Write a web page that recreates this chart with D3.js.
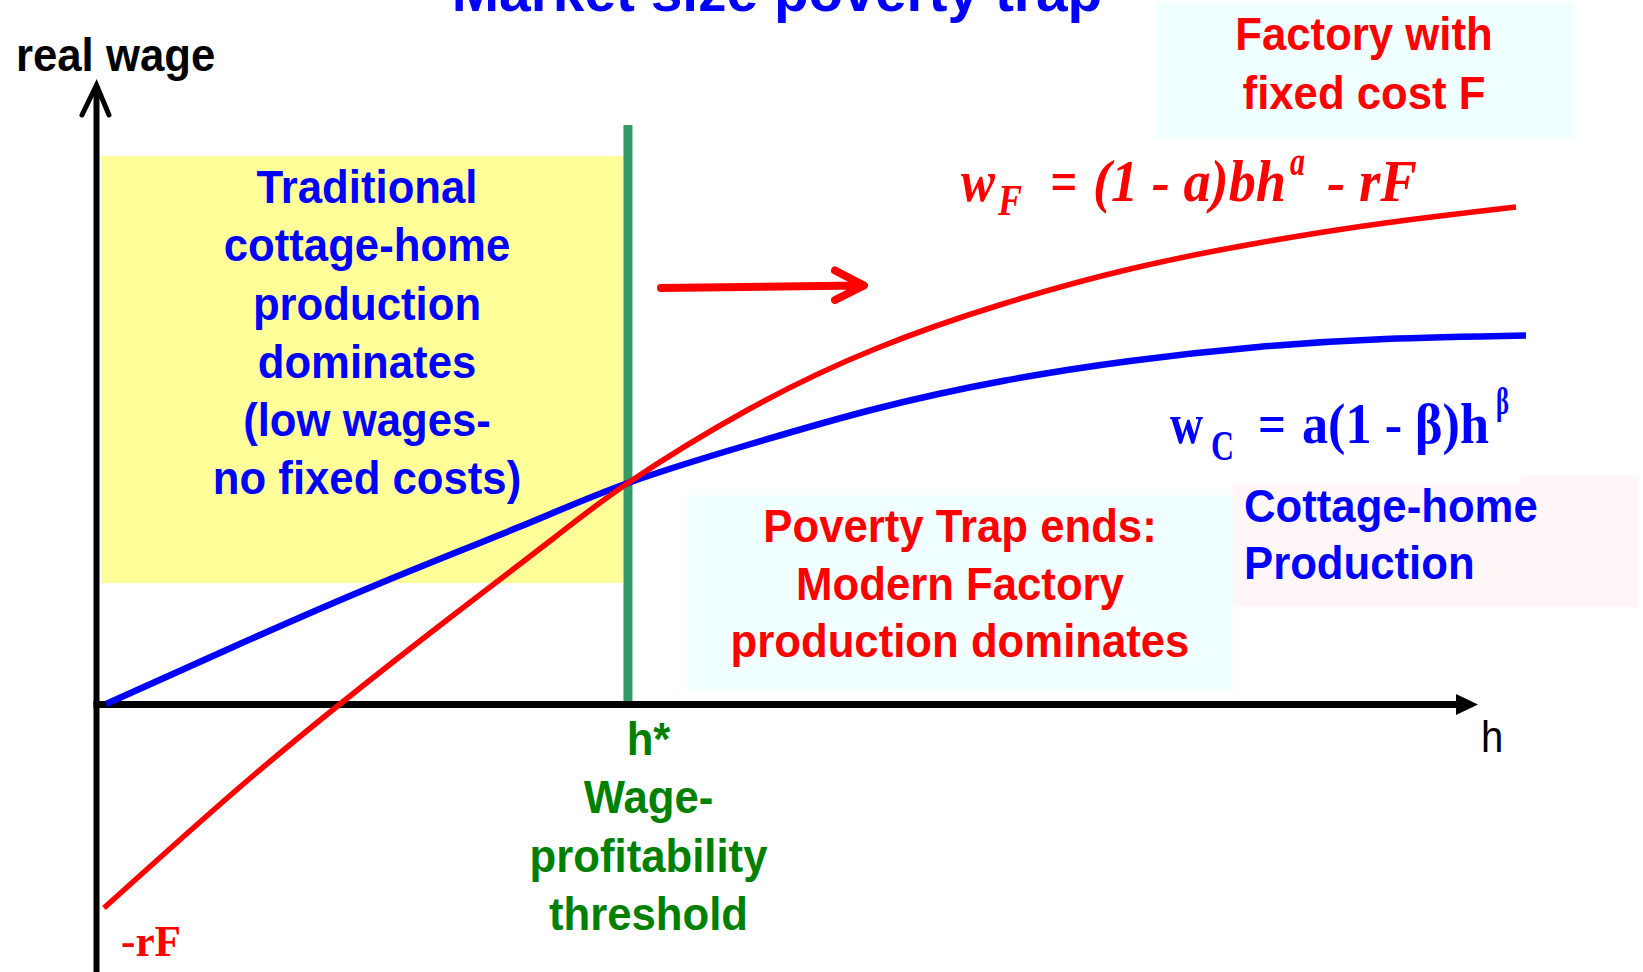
<!DOCTYPE html>
<html><head><meta charset="utf-8">
<script src="https://cdn.jsdelivr.net/npm/d3@7"></script>
<style>html,body{margin:0;padding:0;background:#fff}svg{display:block}</style>
</head><body>
<script>
// ---------- data ----------
const hCottage = [0.69, 9.88, 20.23, 30.58, 38.47, 47.12, 56.35, 65.59, 74.81, 84.08, 93.27, 103.47];
const wCottage = [0, 5.7, 11.9, 17.7, 22.1, 25.9, 29.5, 32.3, 34.3, 35.7, 36.5, 36.85];
const hFactory = [0.54, 9.88, 17.63, 25.37, 33.11, 38.47, 47.12, 56.35, 65.59, 74.81, 84.08, 93.27, 102.75];
const wFactory = [-20.4, -8.9, 0, 8.4, 16.6, 22.1, 29.4, 35.5, 40.0, 43.5, 46.1, 48.1, 49.7];
const hStar = 38.47;
const thresholdTop = 57.9;

const titleText = "Market size poverty trap";
const yAxisLabel = "real wage";
const xAxisLabel = "h";
const cottageBoxLines = ["Traditional", "cottage-home", "production", "dominates", "(low wages-", "no fixed costs)"];
const factoryBoxLines = ["Poverty Trap ends:", "Modern Factory", "production dominates"];
const factoryTitleLines = ["Factory with", "fixed cost F"];
const cottageLabelLines = ["Cottage-home", "Production"];
const thresholdLines = ["h*", "Wage-", "profitability", "threshold"];
const interceptLabel = "-rF";

// ---------- setup ----------
const W = 1643, H = 972;
const svg = d3.select("body").append("svg").attr("width", W).attr("height", H);
const x = d3.scaleLinear().domain([0, 100]).range([96.5, 1478]);
const y = d3.scaleLinear().domain([-26.8, 70.4]).range([972, 0]);

const SANS = "'Liberation Sans', Arial, sans-serif";
const SERIF = "'Liberation Serif', 'Times New Roman', serif";
const BLUE = "#0000FF", RED = "#FF0000", GREEN = "#008000";

function label(txt, px, py, o) {
  svg.append("text")
    .attr("transform", `translate(${px},${py}) scale(${o.sx ?? 0.93},1)`)
    .attr("text-anchor", o.anchor || "middle")
    .attr("font-family", o.family || SANS)
    .attr("font-size", o.size || 47)
    .attr("font-weight", o.weight ?? 700)
    .attr("font-style", o.style || "normal")
    .attr("fill", o.fill)
    .text(txt);
}
function piece(txt, x0, x1, py, size, fill, style) {
  svg.append("text")
    .attr("x", x0).attr("y", py)
    .attr("textLength", x1 - x0).attr("lengthAdjust", "spacingAndGlyphs")
    .attr("font-family", SERIF).attr("font-size", size)
    .attr("font-weight", 700).attr("font-style", style || "normal")
    .attr("fill", fill).text(txt);
}

// ---------- background boxes ----------
const gx = x(hStar);
svg.append("rect").attr("x", 101).attr("y", 156).attr("width", gx - 5 - 101).attr("height", 583 - 156).attr("fill", "#FFFF99");
svg.append("rect").attr("x", 1156).attr("y", 3).attr("width", 1574 - 1156).attr("height", 136).attr("fill", "#F0FFFF");
svg.append("rect").attr("x", 687).attr("y", 495).attr("width", 1233 - 687).attr("height", 196).attr("fill", "#F0FFFF");
svg.append("rect").attr("x", 1233).attr("y", 475).attr("width", 1639 - 1233).attr("height", 132).attr("fill", "#FFF7F7");
svg.append("rect").attr("x", 1233).attr("y", 468).attr("width", 1521 - 1233).attr("height", 16).attr("fill", "#FFFFFF");

// ---------- threshold line ----------
svg.append("line").attr("x1", gx).attr("x2", gx).attr("y1", y(thresholdTop)).attr("y2", y(0) - 3)
  .attr("stroke", "#339966").attr("stroke-width", 9);

// ---------- axes ----------
const x0 = x(0), y0 = y(0);
svg.append("line").attr("x1", x0).attr("x2", x0).attr("y1", H).attr("y2", 86)
  .attr("stroke", "#000").attr("stroke-width", 6);
svg.append("path").attr("d", `M${x0 - 14.5},115 L${x0},85 L${x0 + 12.5},115`)
  .attr("fill", "none").attr("stroke", "#000").attr("stroke-width", 5)
  .attr("stroke-linecap", "round").attr("stroke-linejoin", "miter");
svg.append("line").attr("x1", x0 - 3).attr("x2", 1460).attr("y1", y0 + 0.5).attr("y2", y0 + 0.5)
  .attr("stroke", "#000").attr("stroke-width", 7);
svg.append("path").attr("d", `M1456,${y0 - 10} L${x(100)},${y0 + 0.5} L1456,${y0 + 11} Z`).attr("fill", "#000");

// ---------- curves ----------
const line = d3.line().x(d => x(d[0])).y(d => y(d[1])).curve(d3.curveNatural);
svg.append("path").datum(hCottage.map((h, i) => [h, wCottage[i]])).attr("d", line)
  .attr("fill", "none").attr("stroke", BLUE).attr("stroke-width", 6.5);
svg.append("path").datum(hFactory.map((h, i) => [h, wFactory[i]])).attr("d", line)
  .attr("fill", "none").attr("stroke", RED).attr("stroke-width", 5.5);

// ---------- red arrow ----------
svg.append("path").attr("d", "M661,288 L860,285.5 M835,270.5 L864,285.5 L835,300")
  .attr("fill", "none").attr("stroke", RED).attr("stroke-width", 8)
  .attr("stroke-linecap", "round").attr("stroke-linejoin", "round");

// ---------- text ----------
label(titleText, 777, 11, {size: 58, sx: 0.98, fill: BLUE});
label(yAxisLabel, 16, 71, {anchor: "start", sx: 0.93, fill: "#000"});
label(xAxisLabel, 1481, 752, {anchor: "start", size: 44, weight: 400, sx: 0.91, fill: "#000"});

const cb = [203, 261, 319.5, 378, 436, 494];
cottageBoxLines.forEach((t, i) => label(t, 367, cb[i], {fill: BLUE}));
const fb = [542, 600, 657];
factoryBoxLines.forEach((t, i) => label(t, 960, fb[i], {fill: RED}));
const ft = [50, 109];
factoryTitleLines.forEach((t, i) => label(t, 1364, ft[i], {fill: RED}));
const cl = [522, 579];
cottageLabelLines.forEach((t, i) => label(t, 1244, cl[i], {anchor: "start", fill: BLUE}));
const tl = [755, 813, 872, 930];
thresholdLines.forEach((t, i) => label(t, 648.5, tl[i], {fill: GREEN}));

// formulas
piece("w", 961, 995, 201, 60, RED, "italic");
piece("F", 998, 1022, 215, 44, RED, "italic");
piece("=", 1050, 1077, 201, 60, RED, "italic");
piece("(1 - a)bh", 1093, 1286, 201, 60, RED, "italic");
piece("a", 1290, 1305, 175, 40, RED, "italic");
piece("- rF", 1327, 1417, 201, 60, RED, "italic");

piece("w", 1170, 1203, 443, 58, BLUE);
piece("C", 1211, 1234, 460, 42, BLUE);
piece("=", 1258, 1286, 443, 58, BLUE);
piece("a(1 - \u03B2)h", 1302, 1489, 443, 58, BLUE);
piece("\u03B2", 1496, 1509, 414, 38, BLUE);

piece(interceptLabel, 121, 181, 956, 44, RED);
</script>
</body></html>
